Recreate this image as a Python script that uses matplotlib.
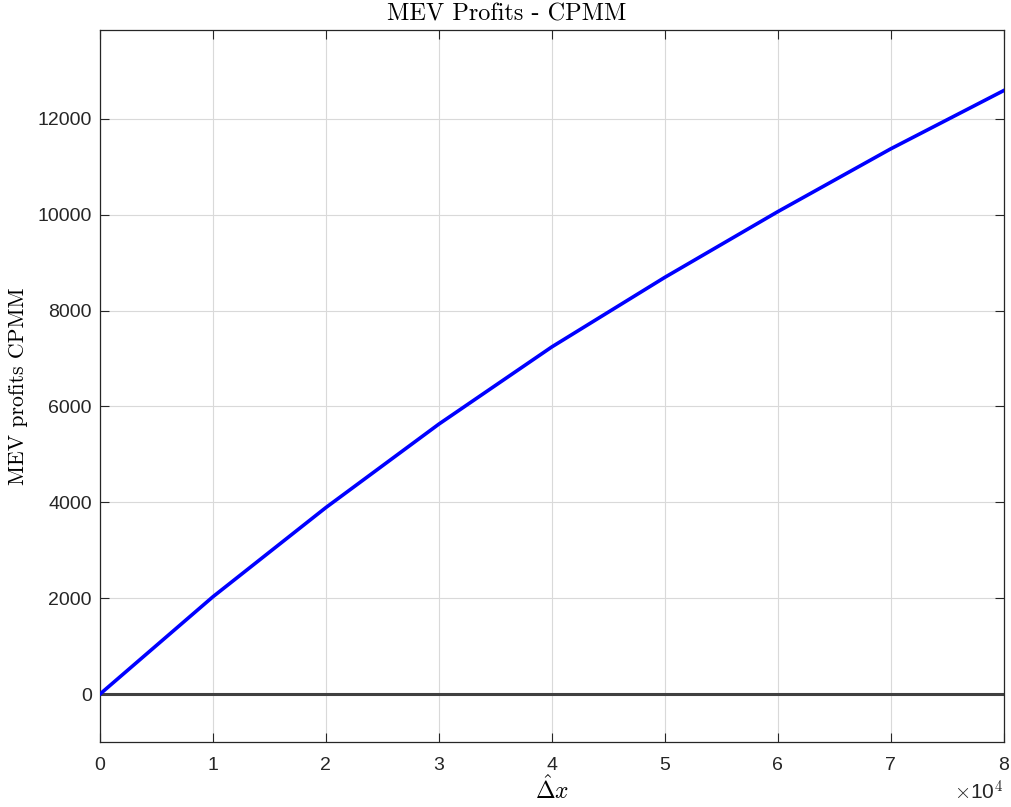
import matplotlib
matplotlib.use('Agg')
import matplotlib.pyplot as plt
from matplotlib.ticker import FuncFormatter

plt.rcParams['font.family'] = ['Liberation Sans', 'DejaVu Sans']
plt.rcParams['mathtext.fontset'] = 'cm'
plt.rcParams['axes.unicode_minus'] = False

# input size (Delta x hat) and MEV profit
delta_x = [0, 10000, 20000, 30000, 40000, 50000, 60000, 70000, 80000]
profits = [0, 2030, 3890, 5630, 7240, 8690, 10060, 11370, 12585]

x_ticks = [0, 10000, 20000, 30000, 40000, 50000, 60000, 70000, 80000]
y_ticks = [0, 2000, 4000, 6000, 8000, 10000, 12000]

fig = plt.figure(figsize=(10.11, 8.07), dpi=100)
ax = fig.add_axes([0.0989, 0.0805, 0.8937, 0.8823])

ax.plot(delta_x, profits, color='#0000ff', linewidth=2.6, zorder=3)
ax.axhline(0, color='#404040', linewidth=2.2, zorder=2)

ax.set_xlim(0, 80000)
ax.set_ylim(-1000, 13850)
ax.set_xticks(x_ticks)
ax.set_yticks(y_ticks)
ax.xaxis.set_major_formatter(FuncFormatter(lambda v, p: '%d' % round(v / 1e4)))

ax.grid(True, color='#d9d9d9', linewidth=0.8)
ax.set_axisbelow(True)
ax.tick_params(direction='in', length=6.5, width=0.8, colors='#262626',
               labelsize=14, top=True, right=True)
ax.tick_params(axis='x', pad=11)
ax.tick_params(axis='y', pad=6)
for s in ax.spines.values():
    s.set_color('#262626')
    s.set_linewidth(0.9)

# latex-looking labels (Computer Modern shipped with matplotlib)
ax.set_title('MEV Profits - CPMM', fontfamily='cmr10', fontsize=17.5, pad=7, x=0.45)
ax.set_xlabel(r'$\hat{\Delta}x$', fontsize=17, labelpad=1)
ax.set_ylabel('MEV profits CPMM', fontfamily='cmr10', fontsize=15.7, labelpad=7)
fig.text(0.9926, 0.004, r'$\times$10$^4$', fontsize=15, color='#262626',
         ha='right', va='bottom')

fig.savefig('out.png', dpi=100)
